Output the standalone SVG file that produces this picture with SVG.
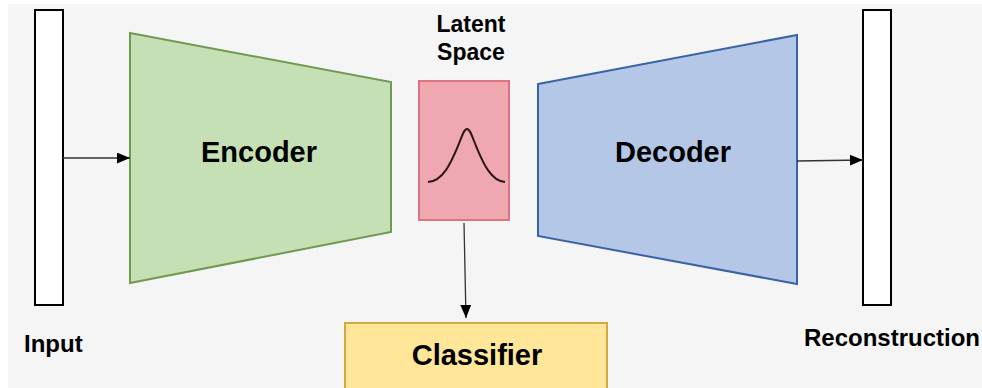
<svg xmlns="http://www.w3.org/2000/svg" width="982" height="388" viewBox="0 0 982 388">
  <defs>
    <marker id="arrow" viewBox="0 0 12 10" refX="12" refY="5" markerWidth="13" markerHeight="11" markerUnits="userSpaceOnUse" orient="auto">
      <path d="M0,0 L12,5 L0,10 Z" fill="#000"/>
    </marker>
    <style>
      .lbl { font-family: "Liberation Sans", Arial, sans-serif; font-weight: bold; fill: #000; }
      .bar { fill: #ffffff; stroke: #000; stroke-width: 2; }
      .conn { stroke: #333; stroke-width: 1.3; fill: none; marker-end: url(#arrow); }
    </style>
  </defs>
  <rect x="0" y="0" width="982" height="388" fill="#ffffff"/>
  <rect x="8" y="4" width="974" height="384" fill="#f5f5f5"/>

  <g id="input">
    <rect class="bar" x="35" y="10" width="28" height="295"/>
    <text class="lbl" x="24" y="352" font-size="24">Input</text>
  </g>

  <g id="encoder">
    <polygon points="130,33 391,82 391,232 130,283" fill="#c5e0b4" stroke="#6e9a52" stroke-width="2"/>
    <text class="lbl" x="259" y="162" font-size="29" text-anchor="middle">Encoder</text>
  </g>

  <g id="latent">
    <text class="lbl" x="471" y="32" font-size="23" text-anchor="middle">Latent</text>
    <text class="lbl" x="471" y="60" font-size="23" text-anchor="middle">Space</text>
    <rect x="419" y="81" width="90" height="139" fill="#f0a8b0" stroke="#dc7482" stroke-width="2"/>
    <path d="M428,182 C444,181 452,160 458,146 C462,136 464,129 467,129 C470,129 472,136 476,146 C482,160 490,181 505,182" fill="none" stroke="#2a1616" stroke-width="2"/>
  </g>

  <g id="decoder">
    <polygon points="538,84 797,35 797,284 538,236" fill="#b4c7e7" stroke="#3a62a6" stroke-width="2"/>
    <text class="lbl" x="673" y="162" font-size="29" text-anchor="middle">Decoder</text>
  </g>

  <g id="reconstruction">
    <rect class="bar" x="863" y="10" width="28" height="295"/>
    <text class="lbl" x="804" y="346" font-size="24">Reconstruction</text>
  </g>

  <g id="classifier">
    <rect x="345" y="323" width="262" height="80" fill="#ffe699" stroke="#d1ab3e" stroke-width="2"/>
    <text class="lbl" x="477" y="365" font-size="29" text-anchor="middle">Classifier</text>
  </g>

  <g id="connectors">
    <line class="conn" x1="63" y1="158" x2="130" y2="158"/>
    <line class="conn" x1="797" y1="161" x2="863" y2="160"/>
    <line class="conn" x1="464" y1="223" x2="466" y2="318"/>
  </g>
</svg>
